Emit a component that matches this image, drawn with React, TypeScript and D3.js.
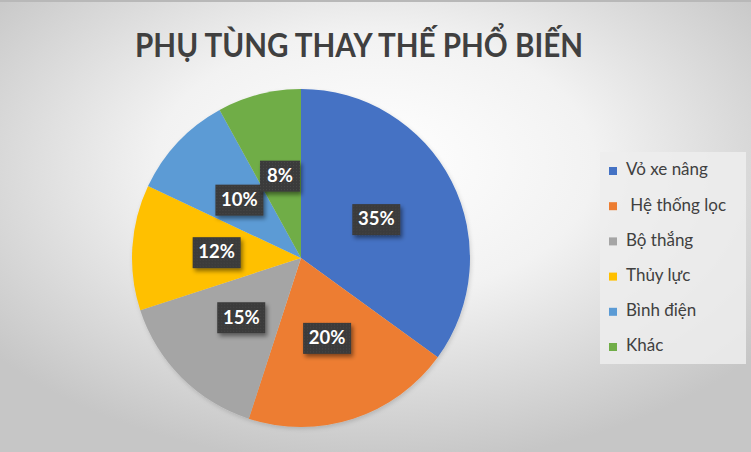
import React from "react";
import * as d3 from "d3";

const categories = ["Vỏ xe nâng", " Hệ thống lọc", "Bộ thắng", "Thủy lực", "Bình điện", "Khác"];
const values = [35, 20, 15, 12, 10, 8];
const colors = ["#4472C4", "#ED7D31", "#A5A5A5", "#FFC000", "#5B9BD5", "#70AD47"];
const title = "PHỤ TÙNG THAY THẾ PHỔ BIẾN";

const W = 751;
const H = 452;
const cx = 301;
const cy = 258;
const R = 169;

export default function App() {
  React.useEffect(() => {
    document.body.style.margin = "0";
  }, []);

  const total = d3.sum(values);
  const pie = d3.pie<number>().sort(null).value((d) => d);
  const arcs = pie(values);
  const arcGen = d3.arc<d3.PieArcDatum<number>>().innerRadius(0).outerRadius(R);
  const labelArc = d3.arc<d3.PieArcDatum<number>>().innerRadius(R * 0.5).outerRadius(R * 0.5);

  const legendY = d3.scalePoint<number>().domain(d3.range(categories.length)).range([171, 347]);

  const font = "Lato, 'Open Sans', sans-serif";

  return (
    <svg width={W} height={H} viewBox={`0 0 ${W} ${H}`} style={{ display: "block" }}>
      <defs>
        <radialGradient id="bg" cx="50%" cy="38%" r="65%" fx="50%" fy="35%">
          <stop offset="0%" stopColor="#ffffff" />
          <stop offset="45%" stopColor="#f2f2f2" />
          <stop offset="100%" stopColor="#c6c6c6" />
        </radialGradient>
        <filter id="lblShadow" x="-30%" y="-30%" width="170%" height="170%">
          <feDropShadow dx="2" dy="3" stdDeviation="2" floodColor="#000" floodOpacity="0.45" />
        </filter>
        <filter id="pieShadow" x="-10%" y="-10%" width="120%" height="120%">
          <feDropShadow dx="1" dy="2" stdDeviation="2" floodColor="#000" floodOpacity="0.15" />
        </filter>
        <pattern id="dots" width="3" height="3" patternUnits="userSpaceOnUse">
          <rect width="3" height="3" fill="#3a3a3a" />
          <rect x="1" y="1" width="1" height="1" fill="#4a4a4a" />
        </pattern>
      </defs>
      <rect x={0} y={0} width={W} height={H} fill="url(#bg)" />
      <rect x={0} y={0} width={W} height={2} fill="#b8b8b8" />

      <text
        x={135}
        y={57}
        textLength={448}
        lengthAdjust="spacingAndGlyphs"
        fontFamily={font}
        fontWeight={700}
        fontSize={32}
        fill="#404040"
      >
        {title}
      </text>

      <g transform={`translate(${cx},${cy})`} filter="url(#pieShadow)">
        {arcs.map((a, i) => (
          <path key={i} d={arcGen(a) || ""} fill={colors[i]} />
        ))}
      </g>

      <g transform={`translate(${cx},${cy})`}>
        {arcs.map((a, i) => {
          const [x, y] = labelArc.centroid(a);
          const label = `${Math.round((values[i] / total) * 100)}%`;
          const w = label.length >= 3 ? 48 : 40;
          const h = 31;
          return (
            <g key={i} transform={`translate(${x},${y})`}>
              <rect x={-w / 2} y={-h / 2} width={w} height={h} fill="url(#dots)" filter="url(#lblShadow)" />
              <text
                x={0}
                y={1}
                textAnchor="middle"
                dominantBaseline="middle"
                fontFamily={font}
                fontWeight={700}
                fontSize={18.5}
                fill="#ffffff"
              >
                {label}
              </text>
            </g>
          );
        })}
      </g>

      <rect x={600} y={152} width={146} height={212} fill="#ededed" opacity={0.85} />
      {categories.map((c, i) => {
        const y = legendY(i) as number;
        return (
          <g key={i}>
            <rect x={609} y={y - 4} width={8} height={8} fill={colors[i]} />
            <text
              x={626}
              y={y}
              dominantBaseline="middle"
              fontFamily={font}
              fontSize={17}
              fill="#404040"
              style={{ whiteSpace: "pre" }}
            >
              {c}
            </text>
          </g>
        );
      })}
    </svg>
  );
}
